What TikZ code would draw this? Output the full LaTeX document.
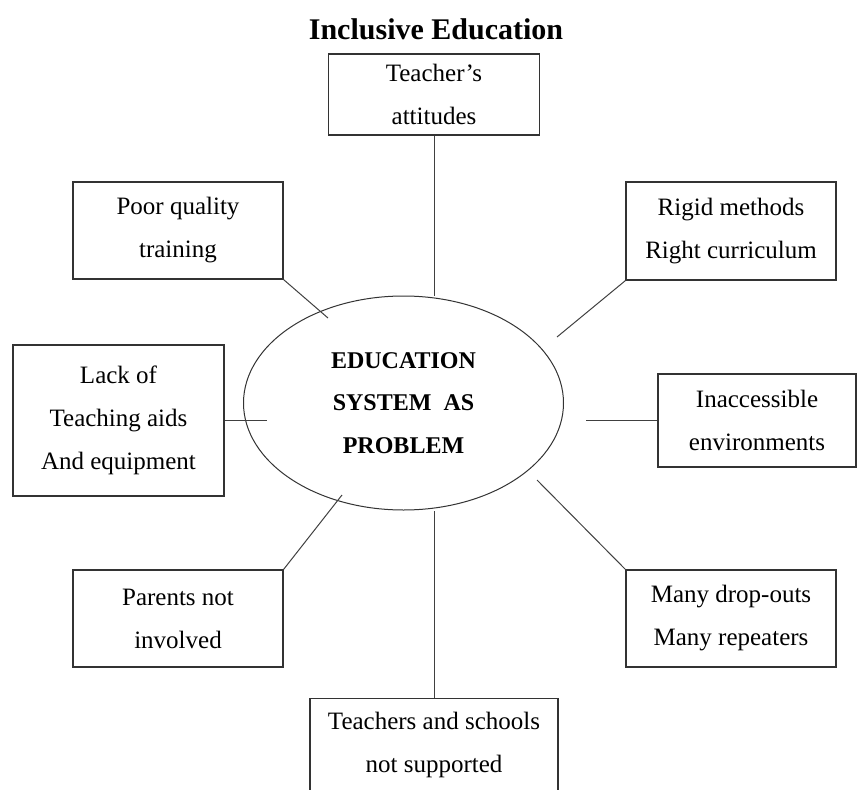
\documentclass[tikz,border=0pt]{standalone}
\usepackage{fontspec}
\setmainfont{Liberation Serif}
\usetikzlibrary{positioning}
\usetikzlibrary{shapes.geometric}
\tikzset{
    probBox/.style={draw=black!80, line width=1.2pt, fill=white, align=center, inner sep=0pt,
        font=\fontsize{25}{43}\selectfont},
    coreEllipse/.style={ellipse, draw=black!80, line width=1pt, align=center, inner sep=0pt,
        minimum width=320, minimum height=214, font=\bfseries\fontsize{24}{42.5}\selectfont},
    link/.style={draw=black!75, line width=1pt}
}

\begin{document}
\begin{tikzpicture}[x=1pt,y=-1pt]
    \useasboundingbox (0,0) rectangle (860,790);
    \node[anchor=base, font=\bfseries\fontsize{30}{30}\selectfont] (title) at (436,39) {Inclusive Education};

    \node[coreEllipse] (edu) at (403.5,403) {EDUCATION\\SYSTEM\ \ AS\\PROBLEM};

    \node[probBox, minimum width=211, minimum height=81] (teach) at (434,94.5) {Teacher's\\attitudes};
    \node[probBox, minimum width=210, minimum height=97] (poor) at (178,230.5) {Poor quality\\training};
    \node[probBox, minimum width=210, minimum height=98] (rigid) at (731,231) {Rigid methods\\Right curriculum};
    \node[probBox, minimum width=211, minimum height=151] (lack) at (118.5,420.5) {Lack of\\Teaching aids\\And equipment};
    \node[probBox, minimum width=198, minimum height=93] (inacc) at (757,420.5) {Inaccessible\\environments};
    \node[probBox, minimum width=210, minimum height=97] (parents) at (178,618.5) {Parents not\\involved};
    \node[probBox, minimum width=210, minimum height=97] (drop) at (731,618.5) {Many drop-outs\\Many repeaters};
    \node[probBox, anchor=north, minimum width=248, minimum height=130] (supp) at (434,698) {Teachers and schools\\not supported\\~};

    % loose ends of the spokes
    \coordinate (poorEnd) at (328,318);
    \coordinate (rigidEnd) at (557,337);
    \coordinate (lackEnd) at (267,420.5);
    \coordinate (inaccEnd) at (586,420.5);
    \coordinate (parentsEnd) at (342,495);
    \coordinate (dropEnd) at (537,480);

    \draw[link] (teach.south) -- (teach.south |- edu.north);
    \draw[link] (supp.north) -- (supp.north |- edu.south);
    \draw[link] (poor.south east) -- (poorEnd);
    \draw[link] (rigid.south west) -- (rigidEnd);
    \draw[link] (lack.east) -- (lackEnd);
    \draw[link] (inacc.west) -- (inaccEnd);
    \draw[link] (parents.north east) -- (parentsEnd);
    \draw[link] (drop.north west) -- (dropEnd);
\end{tikzpicture}
\end{document}
